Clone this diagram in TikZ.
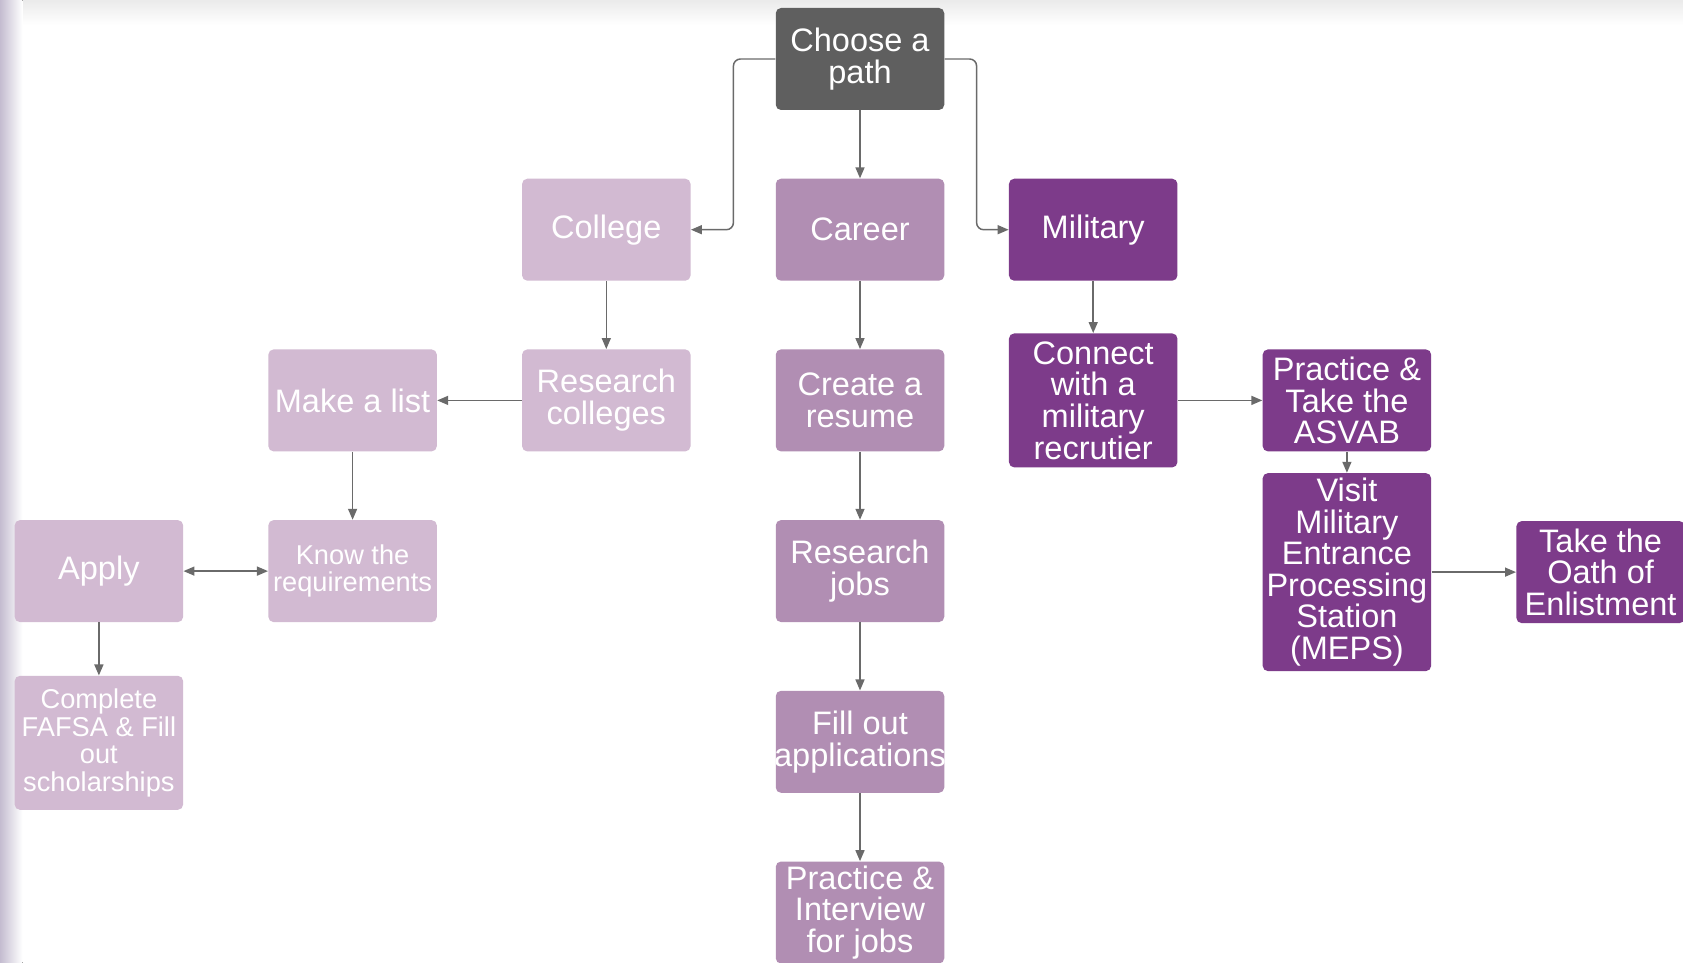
\documentclass[tikz,border=0pt]{standalone}
\usepackage{fontspec}
\setmainfont{Liberation Sans}
\usetikzlibrary{arrows.meta, positioning}
\definecolor{pathgray}{HTML}{5F5F5F}
\definecolor{collegepink}{HTML}{D2BAD2}
\definecolor{careermauve}{HTML}{B18EB3}
\definecolor{militarypurple}{HTML}{7D3B8A}
\definecolor{linegray}{HTML}{6A6A6A}
\definecolor{edgeshade}{HTML}{C4BCD0}
\tikzset{
  box/.style     ={rounded corners=3pt, align=center, text=white, inner sep=1pt,
                   minimum height=2.04cm, minimum width=3.37cm,
                   font=\fontsize{18.5}{18}\selectfont},
  pathbox/.style ={box, fill=pathgray},
  colbox/.style  ={box, fill=collegepink},
  carbox/.style  ={box, fill=careermauve},
  milbox/.style  ={box, fill=militarypurple},
  smalltext/.style={font=\fontsize{15.5}{15.7}\selectfont},
  arr/.style     ={-{Triangle[length=2.2mm, width=1.8mm]}, line width=0.85pt, draw=linegray},
  twoway/.style  ={{Triangle[length=2.2mm, width=1.8mm]}-{Triangle[length=2.2mm, width=1.8mm]},
                   line width=0.85pt, draw=linegray},
}
\begin{document}
\begin{tikzpicture}[node distance=1.36cm and 1.69cm]
  \useasboundingbox (0,0) rectangle (33.66,-19.26);
  \fill[white] (0,0) rectangle (33.66,-19.26);
  \fill[top color=black!8, bottom color=white] (0,0) rectangle (33.66,-0.5);
  \fill[left color=edgeshade, right color=white] (0,0) rectangle (0.45,-19.26);

  \node[pathbox] at (17.2,-1.18)         (choose)   {Choose a\\path};
  \node[carbox, below=of choose]         (career)   {Career};
  \node[colbox, left=of career]          (college)  {College};
  \node[milbox, right=1.28cm of career]  (military) {Military};

  % college path
  \node[colbox, below=of college]        (rescol)   {Research\\colleges};
  \node[colbox, left=of rescol]          (list)     {Make a list};
  \node[colbox, smalltext, below=of list] (know)    {Know the\\requirements};
  \node[colbox, left=of know]            (apply)    {Apply};
  \node[colbox, smalltext, minimum height=2.68cm, below=1.06cm of apply] (fafsa)
       {Complete\\FAFSA \& Fill\\out\\scholarships};

  % career path
  \node[carbox, below=of career]         (resume)   {Create a\\resume};
  \node[carbox, below=of resume]         (jobs)     {Research\\jobs};
  \node[carbox, below=of jobs]           (fill)     {Fill out\\\makebox[3.2cm]{applications}};
  \node[carbox, below=of fill]           (interview) {Practice \&\\Interview\\for jobs};

  % military path
  \node[milbox, minimum height=2.68cm, right=1.28cm of resume] (recruit)
       {Connect\\with a\\military\\recrutier};
  \node[milbox, right=of recruit]        (asvab)    {Practice \&\\Take the\\ASVAB};
  \node[milbox, minimum height=3.96cm, below=0.42cm of asvab] (meps)
       {Visit\\Military\\Entrance\\Processing\\Station\\(MEPS)};
  \node[milbox, right=of meps]           (oath)     {Take the\\Oath of\\Enlistment};

  \draw[arr, rounded corners=4pt] (choose.west) -- ++(-0.84,0) |- (college.east);
  \draw[arr, rounded corners=4pt] (choose.east) -- ++(0.64,0) |- (military.west);
  \draw[arr] (choose) -- (career);

  \draw[arr] (college) -- (rescol);
  \draw[arr] (rescol) -- (list);
  \draw[arr] (list) -- (know);
  \draw[twoway] (apply) -- (know);
  \draw[arr] (apply) -- (fafsa);

  \draw[arr] (career) -- (resume);
  \draw[arr] (resume) -- (jobs);
  \draw[arr] (jobs) -- (fill);
  \draw[arr] (fill) -- (interview);

  \draw[arr] (military) -- (recruit);
  \draw[arr] (recruit) -- (asvab);
  \draw[arr] (asvab) -- (meps);
  \draw[arr] (meps) -- (oath);
\end{tikzpicture}
\end{document}
